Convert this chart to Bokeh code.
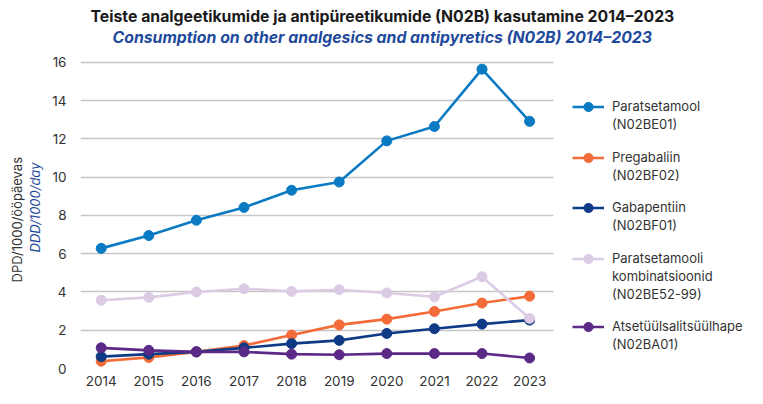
from bokeh.plotting import figure
from bokeh.models import Legend, LegendItem, Title, FixedTicker, Range1d, Grid
from bokeh.embed import file_html
from bokeh.resources import INLINE

years = [2014, 2015, 2016, 2017, 2018, 2019, 2020, 2021, 2022, 2023]
paratsetamool = [6.28, 6.95, 7.75, 8.42, 9.32, 9.75, 11.9, 12.65, 15.65, 12.92]
pregabaliin = [0.38, 0.58, 0.87, 1.2, 1.75, 2.28, 2.58, 2.98, 3.42, 3.78]
gabapentiin = [0.62, 0.75, 0.87, 1.08, 1.3, 1.47, 1.83, 2.08, 2.32, 2.53]
kombinatsioonid = [3.57, 3.72, 4.0, 4.17, 4.03, 4.12, 3.95, 3.75, 4.8, 2.62]
atsetyylsalitsyylhape = [1.08, 0.95, 0.87, 0.87, 0.75, 0.72, 0.78, 0.78, 0.78, 0.55]

series_labels = [
    ["Paratsetamool", "(N02BE01)"],
    ["Pregabaliin", "(N02BF02)"],
    ["Gabapentiin", "(N02BF01)"],
    ["Paratsetamooli", "kombinatsioonid", "(N02BE52-99)"],
    ["Atsetüülsalitsüülhape", "(N02BA01)"],
]
series_values = [paratsetamool, pregabaliin, gabapentiin, kombinatsioonid, atsetyylsalitsyylhape]
series_colors = ["#0a7bc2", "#f26b38", "#0f3a86", "#dccbe5", "#5b2a86"]
y_ticks = [0, 2, 4, 6, 8, 10, 12, 14, 16]

title_et = "Teiste analgeetikumide ja antipüreetikumide (N02B) kasutamine 2014–2023"
title_en = "Consumption on other analgesics and antipyretics (N02B) 2014–2023"
ylab_et = "DPD/1000/ööpäevas"
ylab_en = "DDD/1000/day"

FONT = "Inter"
W, H = 747, 388
FL, FR, FT, FB = 80, 747, 46, 369       # frame edges (px); frame also hosts the legend
PX_YR = 47.6                             # px per year
X_START = 2014 - 20.7 / PX_YR
X_END = X_START + (FR - FL) / PX_YR
PLOT_X_END = 2023.5                      # where the grid lines stop
Y_SCALE = (FB - 62) / 16.0
Y_END = 16 + (62 - FT) / Y_SCALE

p = figure(width=W, height=H, output_backend="svg", toolbar_location=None,
           x_range=Range1d(X_START, X_END), y_range=Range1d(0, Y_END),
           min_border_left=FL, min_border_right=W - FR,
           min_border_top=FT, min_border_bottom=H - FB)
p.outline_line_color = None
p.background_fill_color = "white"
p.border_fill_color = "white"

# axes
p.xaxis.ticker = FixedTicker(ticks=years)
p.xaxis.axis_line_color = None
p.xaxis.major_tick_line_color = None
p.xaxis.minor_tick_line_color = None
p.xaxis.major_label_standoff = 1
p.xaxis.major_label_text_font = FONT
p.xaxis.major_label_text_font_size = "13.5px"
p.xaxis.major_label_text_color = "#333333"

p.yaxis.ticker = FixedTicker(ticks=y_ticks)
p.yaxis.bounds = (-1.1, 16)
p.yaxis.axis_line_color = None
p.yaxis.major_tick_line_color = None
p.yaxis.minor_tick_line_color = None
p.yaxis.major_label_standoff = 8
p.yaxis.major_label_text_font = FONT
p.yaxis.major_label_text_font_size = "13.5px"
p.yaxis.major_label_text_color = "#333333"
p.yaxis.axis_label = ylab_en
p.yaxis.axis_label_text_font = FONT
p.yaxis.axis_label_text_font_style = "italic"
p.yaxis.axis_label_text_font_size = "13px"
p.yaxis.axis_label_text_color = "#1f4a9c"
p.yaxis.axis_label_standoff = 6

p.add_layout(Title(text=ylab_et, align="left", offset=86, text_font=FONT,
                   text_font_style="normal", text_font_size="13px",
                   text_color="#333333", standoff=0), "left")

# grid: only across the plotting part of the frame
p.xgrid.grid_line_color = None
if "cross_bounds" in Grid.properties():
    p.ygrid.cross_bounds = (X_START, PLOT_X_END)
    p.ygrid.grid_line_color = "#c6c6c6"
    p.ygrid.grid_line_width = 1.3
else:
    p.ygrid.grid_line_color = None
    p.segment(x0=[X_START] * len(y_ticks), x1=[PLOT_X_END] * len(y_ticks),
              y0=y_ticks, y1=y_ticks, line_color="#c6c6c6", line_width=1.3)

dummy = p.line(x=[], y=[], line_alpha=0)

# legend: per series one legend for the first line (with glyph) and one for the rest
first_line_centers = [107, 158, 208, 259, 327]   # px from top of figure
LINE_H, LINE_GAP, PITCH, GLYPH_H = 16, 2, 18, 23
common = dict(orientation="vertical", border_line_color=None, background_fill_alpha=0,
              padding=0, margin=0, glyph_width=32, label_standoff=8,
              label_text_font=FONT, label_text_font_size="13px", label_text_color="#333333")
for lab_lines, vals, col, c in zip(series_labels, series_values, series_colors, first_line_centers):
    r1 = p.line(years, vals, line_color=col, line_width=2.6)
    r2 = p.scatter(years, vals, marker="circle", size=10, fill_color=col, line_color=col)
    leg_a = Legend(items=[LegendItem(label=lab_lines[0], renderers=[r1, r2])],
                   location=(572 - FL, FB - (c + GLYPH_H / 2)), spacing=0,
                   glyph_height=GLYPH_H, label_height=GLYPH_H, **common)
    p.add_layout(leg_a, "center")
    rest = lab_lines[1:]
    m = len(rest)
    top = c + PITCH - LINE_H / 2
    bottom = top + m * LINE_H + (m - 1) * LINE_GAP
    leg_b = Legend(items=[LegendItem(label=t, renderers=[dummy]) for t in rest],
                   location=(572 - FL, FB - bottom), spacing=LINE_GAP,
                   glyph_height=14, label_height=14, **common)
    p.add_layout(leg_b, "center")

# titles (subtitle first: it sits closest to the plot)
p.add_layout(Title(text=title_en, align="left", offset=32, standoff=0,
                   text_font=FONT, text_font_style="bold italic", text_font_size="15.8px",
                   text_color="#1f4a9c"), "above")
p.add_layout(Title(text=title_et, align="left", offset=10, standoff=0,
                   text_font=FONT, text_font_style="bold", text_font_size="15.8px",
                   text_color="#1a1a1a"), "above")

open("out.html", "w").write(file_html(p, INLINE))
